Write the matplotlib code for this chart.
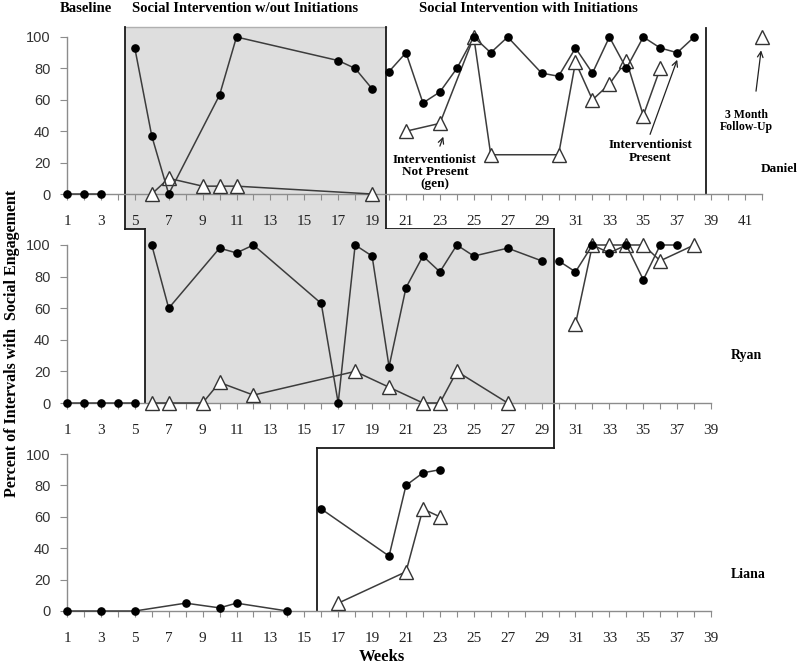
import matplotlib.pyplot as plt
from matplotlib.transforms import blended_transform_factory
from matplotlib.patches import Rectangle
from matplotlib.lines import Line2D

# Daniel
daniel_bl_weeks = [1, 2, 3]
daniel_bl_dots = [0, 0, 0]
daniel_p2_weeks = [5, 6, 7, 10, 11, 17, 18, 19]
daniel_p2_dots = [93, 37, 0, 63, 100, 85, 80, 67]
daniel_p2_tri_weeks = [6, 7, 9, 10, 11, 19]
daniel_p2_tri = [0, 10, 5, 5, 5, 0]
daniel_p3_weeks = [20, 21, 22, 23, 24, 25, 26, 27, 29, 30, 31, 32, 33, 34, 35, 36, 37, 38]
daniel_p3_dots = [78, 90, 58, 65, 80, 100, 90, 100, 77, 75, 93, 77, 100, 80, 100, 93, 90, 100]
daniel_p3_tri_weeks = [21, 23, 25, 26, 30, 31, 32, 33, 34, 35, 36]
daniel_p3_tri = [40, 45, 100, 25, 25, 84, 60, 70, 85, 50, 80]
daniel_fu_weeks = [42]
daniel_fu_tri = [100]

# Ryan
ryan_bl_weeks = [1, 2, 3, 4, 5]
ryan_bl_dots = [0, 0, 0, 0, 0]
ryan_p2_weeks = [6, 7, 10, 11, 12, 16, 17, 18, 19, 20, 21, 22, 23, 24, 25, 27, 29]
ryan_p2_dots = [100, 60, 98, 95, 100, 63, 0, 100, 93, 23, 73, 93, 83, 100, 93, 98, 90]
ryan_p2_tri_weeks = [6, 7, 9, 10, 12, 18, 20, 22, 23, 24, 27]
ryan_p2_tri = [0, 0, 0, 13, 5, 20, 10, 0, 0, 20, 0]
ryan_p3_weeks = [30, 31, 32, 33, 34, 35, 36, 37]
ryan_p3_dots = [90, 83, 100, 95, 100, 78, 100, 100]
ryan_p3_tri_weeks = [31, 32, 33, 34, 35, 36, 38]
ryan_p3_tri = [50, 100, 100, 100, 100, 90, 100]

# Liana
liana_bl_weeks = [1, 3, 5, 8, 10, 11, 14]
liana_bl_dots = [0, 0, 0, 5, 2, 5, 0]
liana_p2_weeks = [16, 20, 21, 22, 23]
liana_p2_dots = [65, 35, 80, 88, 90]
liana_p2_tri_weeks = [17, 21, 22, 23]
liana_p2_tri = [5, 25, 65, 60]

W, H = 800, 665
X0, STEP = 67, 16.95
SERIF = 'Liberation Serif'

fig = plt.figure(figsize=(8, 6.65), dpi=100)


def add_panel(y_top, y_bot, last_week):
    x1 = X0 + (last_week - 1) * STEP
    ax = fig.add_axes([X0 / W, 1 - y_bot / H, (x1 - X0) / W, (y_bot - y_top) / H])
    ax.set_xlim(1, last_week)
    ax.set_ylim(0, 100)
    ax.patch.set_alpha(0)
    for s in ['top', 'right']:
        ax.spines[s].set_visible(False)
    for s in ['left', 'bottom']:
        ax.spines[s].set_color('#8c8c8c')
        ax.spines[s].set_linewidth(1.0)
    weeks = list(range(1, last_week + 1))
    ax.set_xticks(weeks)
    ax.set_xticklabels([str(w) if w % 2 else '' for w in weeks])
    ax.set_yticks(range(0, 101, 20))
    ax.tick_params(axis='x', direction='out', length=4, color='#8c8c8c',
                   pad=11, labelsize=11, labelcolor='#222222')
    ax.tick_params(axis='y', direction='out', length=5, color='#8c8c8c',
                   pad=7, labelsize=10.5, labelcolor='#333333')
    for lbl in ax.get_xticklabels():
        lbl.set_fontfamily(SERIF)
    for lbl in ax.get_yticklabels():
        lbl.set_fontfamily('Liberation Sans')
    return ax


def dots(ax, x, y):
    ax.plot(x, y, color='#3c3c3c', lw=1.1, marker='o', ms=5.2, mfc='black',
            mec='black', clip_on=False, zorder=4)


def tris(ax, x, y):
    ax.plot(x, y, color='#3c3c3c', lw=1.1, marker='^', ms=10, mfc='white',
            mec='#333333', mew=1.0, clip_on=False, zorder=3)


def fy(py):
    return 1 - py / H


def phase_v(ax, x, py0, py1):
    t = blended_transform_factory(ax.transData, fig.transFigure)
    ax.add_line(Line2D([x, x], [fy(py0), fy(py1)], transform=t, clip_on=False,
                       color='#1a1a1a', lw=1.3, zorder=2))


def phase_h(ax, xa, xb, py):
    t = blended_transform_factory(ax.transData, fig.transFigure)
    ax.add_line(Line2D([xa, xb], [fy(py), fy(py)], transform=t, clip_on=False,
                       color='#1a1a1a', lw=1.3, zorder=2))


def shade(ax, xa, xb, py_top, py_bot):
    t = blended_transform_factory(ax.transData, fig.transFigure)
    ax.add_patch(Rectangle((xa, fy(py_bot)), xb - xa, fy(py_top) - fy(py_bot),
                           transform=t, facecolor='#dedede', edgecolor='none',
                           clip_on=False, zorder=0))


ax1 = add_panel(37, 194, 42)
ax2 = add_panel(245, 403, 39)
ax3 = add_panel(454, 611, 39)

# phase change lines (week positions)
d1, d2, d3 = 4.42, 19.82, 38.7
r1, r2 = 5.6, 29.73
l1 = 15.75

shade(ax1, d1, d2, 27, 229)
t1 = blended_transform_factory(ax1.transData, fig.transFigure)
ax1.add_line(Line2D([d1, d2], [fy(27), fy(27)], transform=t1, clip_on=False,
                    color='#b0b0b0', lw=1.0, zorder=1))
phase_v(ax1, d1, 27, 229)
phase_h(ax1, d1, r1, 229)
phase_v(ax1, d2, 27, 229)
phase_h(ax1, d2, r2, 229)
phase_v(ax1, d3, 28, 194)

shade(ax2, r1, r2, 229, 404)
phase_v(ax2, r1, 229, 403)
phase_v(ax2, r2, 229, 448)
phase_h(ax2, l1, r2, 448)

phase_v(ax3, l1, 448, 611)

# Daniel
dots(ax1, daniel_bl_weeks, daniel_bl_dots)
tris(ax1, daniel_p2_tri_weeks, daniel_p2_tri)
dots(ax1, daniel_p2_weeks, daniel_p2_dots)
tris(ax1, daniel_p3_tri_weeks, daniel_p3_tri)
dots(ax1, daniel_p3_weeks, daniel_p3_dots)
tris(ax1, daniel_fu_weeks, daniel_fu_tri)

# Ryan
dots(ax2, ryan_bl_weeks, ryan_bl_dots)
tris(ax2, ryan_p2_tri_weeks, ryan_p2_tri)
dots(ax2, ryan_p2_weeks, ryan_p2_dots)
tris(ax2, ryan_p3_tri_weeks, ryan_p3_tri)
dots(ax2, ryan_p3_weeks, ryan_p3_dots)

# Liana
dots(ax3, liana_bl_weeks, liana_bl_dots)
tris(ax3, liana_p2_tri_weeks, liana_p2_tri)
dots(ax3, liana_p2_weeks, liana_p2_dots)

# annotations
arrow = dict(arrowstyle='->', color='#222222', lw=0.9, shrinkA=0, shrinkB=0)
ax1.text(22.7, 14, 'Interventionist\nNot Present\n(gen)', ha='center', va='center',
         fontsize=9.5, fontweight='bold', family=SERIF, linespacing=1.05)
ax1.annotate('', xy=(23.2, 36.5), xytext=(23.0, 30.5), arrowprops=arrow)
ax1.text(35.4, 27, 'Interventionist\nPresent', ha='center', va='center',
         fontsize=9.5, fontweight='bold', family=SERIF, linespacing=1.05)
ax1.annotate('', xy=(37.0, 85.5), xytext=(35.4, 38), arrowprops=arrow)
ax1.text(41.1, 46.5, '3 Month\nFollow-Up', ha='center', va='center',
         fontsize=8.5, fontweight='bold', family=SERIF, linespacing=1.05)
ax1.annotate('', xy=(41.95, 91.5), xytext=(41.65, 65.5), arrowprops=arrow)

fig.text(798 / W, fy(169), 'Daniel', ha='right', va='center', fontsize=9.5,
         fontweight='bold', family=SERIF)
fig.text(746 / W, fy(356), 'Ryan', ha='center', va='center', fontsize=10,
         fontweight='bold', family=SERIF)
fig.text(748 / W, fy(574), 'Liana', ha='center', va='center', fontsize=10,
         fontweight='bold', family=SERIF)

# phase headers
for label, cx in [('Baseline', 86),
                  ('Social Intervention w/out Initiations', 245),
                  ('Social Intervention with Initiations', 528)]:
    fig.text(cx / W, fy(8), label, ha='center', va='center', fontsize=10.5,
             fontweight='bold', family=SERIF)

fig.text(12 / W, fy(343), 'Percent of Intervals with  Social Engagement',
         rotation=90, ha='center', va='center', fontsize=11.5,
         fontweight='bold', family=SERIF)
fig.text(382 / W, fy(657), 'Weeks', ha='center', va='center', fontsize=12,
         fontweight='bold', family=SERIF)

fig.savefig('out.png', dpi=100)
